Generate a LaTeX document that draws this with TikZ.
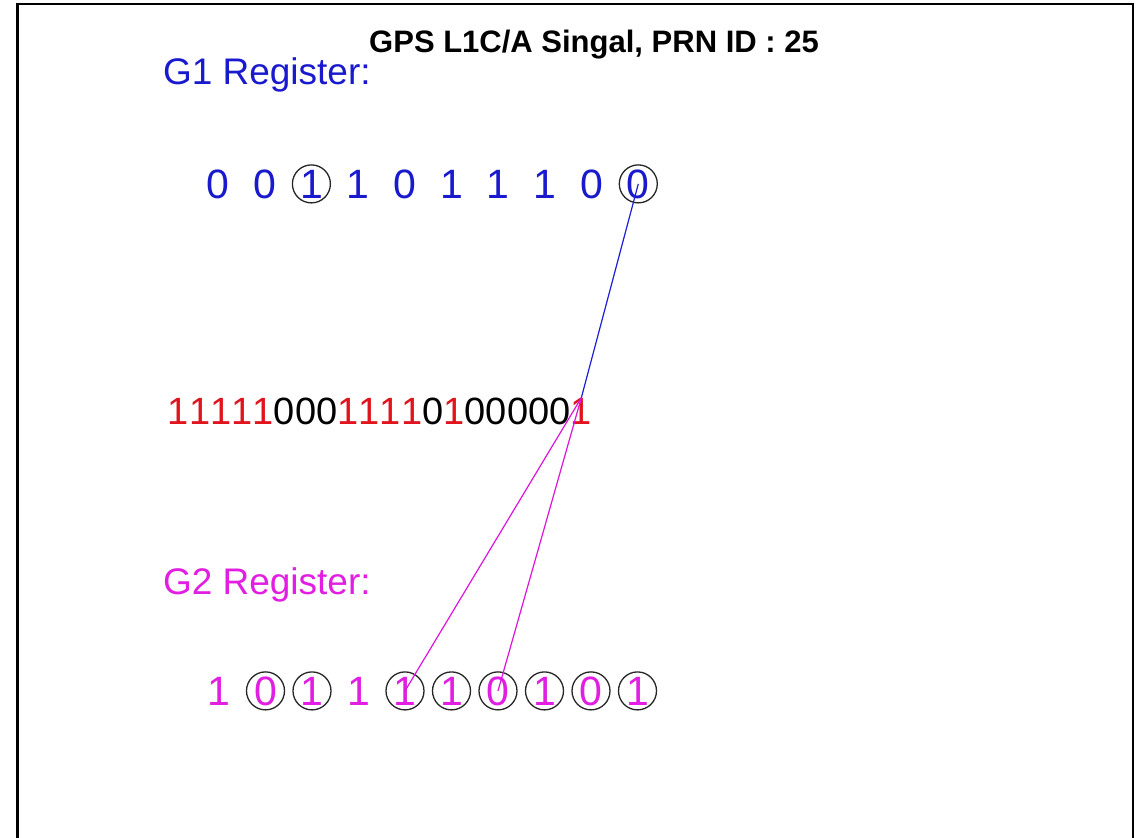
\documentclass[tikz,border=0pt]{standalone}
\usepackage{fontspec}
\setmainfont{Liberation Sans}
\usetikzlibrary{calc}
\definecolor{gonecol}{RGB}{25,25,205}
\definecolor{gtwocol}{RGB}{225,30,225}
\definecolor{chipred}{RGB}{225,20,30}
\definecolor{tapline}{RGB}{30,30,210}
\definecolor{mixline}{RGB}{220,20,220}
\begin{document}
\begin{tikzpicture}[x=1pt,y=-1pt,
  every node/.style={inner sep=0pt,outer sep=0pt},
  titletext/.style={anchor=base,font=\fontsize{31}{34}\selectfont\bfseries},
  reglabel/.style={anchor=base west,font=\fontsize{37}{40}\selectfont},
  bit/.style={anchor=base,font=\fontsize{41}{44}\selectfont},
  chip/.style={anchor=base,font=\fontsize{38}{40}\selectfont},
  c1/.style={text=chipred},
  c0/.style={text=black},
  tapring/.style={draw=black!85,line width=1.3pt,circle,minimum size=38pt},
  feedone/.style={draw=tapline,line width=1.2pt},
  feedtwo/.style={draw=mixline,line width=1.2pt}]
\useasboundingbox (0,0) rectangle (1138,838);
\fill[white] (0,0) rectangle (1138,838);

% frame of the axes
\draw[line width=2.2pt] (17.5,838) -- (17.5,4) -- (1133,4) -- (1133,838);

% title and register labels
\node[titletext] (title) at (594,52) {GPS L1C/A Singal, PRN ID : 25};
\node[reglabel,text=gonecol] (g1lab) at (163,84) {G1 Register:};
\node[reglabel,text=gtwocol] (g2lab) at (163,594) {G2 Register:};

% G1 register bits
\foreach \b [count=\i from 0] in {0,0,1,1,0,1,1,1,0,0}
  \node[bit,text=gonecol] (g1d\i) at ({218+46.7*\i},198) {\b};

% G2 register bits
\foreach \b [count=\i from 0] in {1,0,1,1,1,1,0,1,0,1}
  \node[bit,text=gtwocol] (g2d\i) at ({219+46.5*\i},705) {\b};

% generated chips
\foreach \b [count=\i from 0] in {1,1,1,1,1,0,0,0,1,1,1,1,0,1,0,0,0,0,0,1}
  \node[chip,c\b] (m\i) at ({178.5+21.2*\i},424) {\b};

% tap positions
\foreach \k in {2,9}
  \node[tapring] (g1t\k) at (g1d\k) {};
\foreach \k in {1,2,4,5,6,7,8,9}
  \node[tapring] (g2t\k) at (g2d\k) {};

% feedback connections to the output chip
\draw[feedone] (g1d9.center) -- (m19.north);
\draw[feedtwo] (m19.north) -- (g2d4.center);
\draw[feedtwo] (m19.north) -- (g2d6.center);
\end{tikzpicture}
\end{document}
